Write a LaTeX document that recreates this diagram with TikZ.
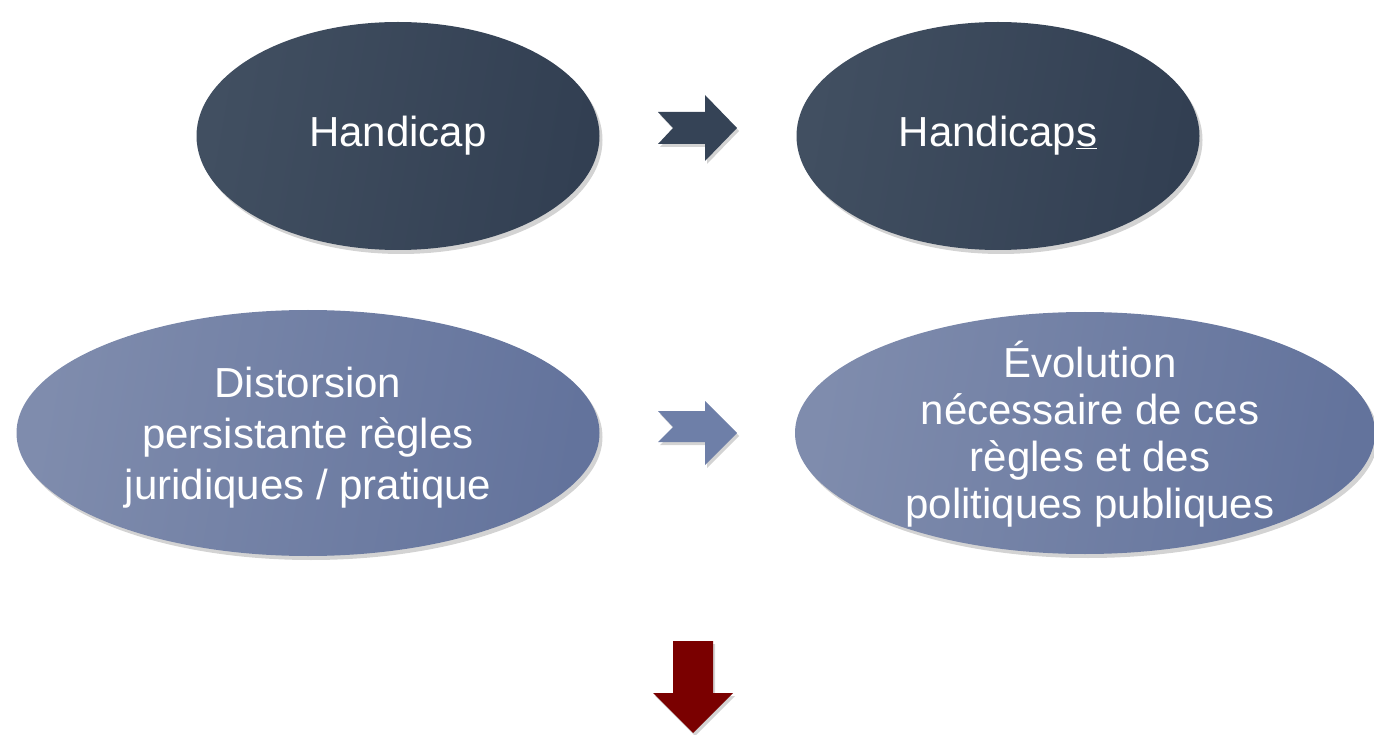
\documentclass[tikz,border=0pt]{standalone}
\usepackage{fontspec}
\setmainfont{Liberation Sans}
\usetikzlibrary{shapes.geometric,shadows}
\definecolor{darkL}{HTML}{414F61}
\definecolor{darkR}{HTML}{323F52}
\definecolor{lightL}{HTML}{7F8CAD}
\definecolor{lightR}{HTML}{63739C}
\definecolor{arrowdark}{HTML}{354356}
\definecolor{arrowlight}{HTML}{6E7FA8}
\definecolor{redarrow}{HTML}{7A0000}
\tikzset{
  oval/.style={ellipse, inner sep=0pt, text=white, align=center,
    font=\fontsize{42}{48}\selectfont,
    drop shadow={opacity=0.35, shadow xshift=3pt, shadow yshift=-4pt}},
  darkoval/.style={oval, left color=darkL, right color=darkR, shading angle=80},
  lightoval/.style={oval, left color=lightL, right color=lightR, shading angle=80},
  blockarrow/.style={draw=none, drop shadow={opacity=0.35, shadow xshift=2pt, shadow yshift=-3pt}}
}
\begin{document}
\begin{tikzpicture}[x=1pt,y=-1pt]
\useasboundingbox (0,0) rectangle (1374,735);
\node[darkoval, minimum width=403pt, minimum height=228pt] (e1) at (398,136) {Handicap};
\node[darkoval, minimum width=403pt, minimum height=228pt] (e2) at (998,136) {Handicap\underline{s}};
\node[lightoval, minimum width=583pt, minimum height=246pt] (e3) at (308,433) {};
\node[text=white, align=center, font=\fontsize{42}{51}\selectfont] (t3) at (308,438) {Distorsion\\persistante règles\\juridiques / pratique};
\node[lightoval, minimum width=580pt, minimum height=242pt] (e4) at (1085,433) {};
\node[text=white, align=center, font=\fontsize{42}{47}\selectfont] (t4) at (1090,434) {Évolution\\nécessaire de ces\\règles et des\\politiques publiques};
% top arrow
\fill[arrowdark, blockarrow] (658,112) -- (705,112) -- (705,95) -- (737,128) -- (705,161) -- (705,144) -- (658,144) -- (673,128) -- cycle;
% middle arrow
\fill[arrowlight, blockarrow] (658,411) -- (705,411) -- (705,401) -- (737,433) -- (705,465) -- (705,442) -- (658,442) -- (673,427) -- cycle;
% red down arrow
\fill[redarrow, blockarrow] (673,641) -- (713,641) -- (713,693) -- (733,693) -- (693,733) -- (653,693) -- (673,693) -- cycle;
\end{tikzpicture}
\end{document}
